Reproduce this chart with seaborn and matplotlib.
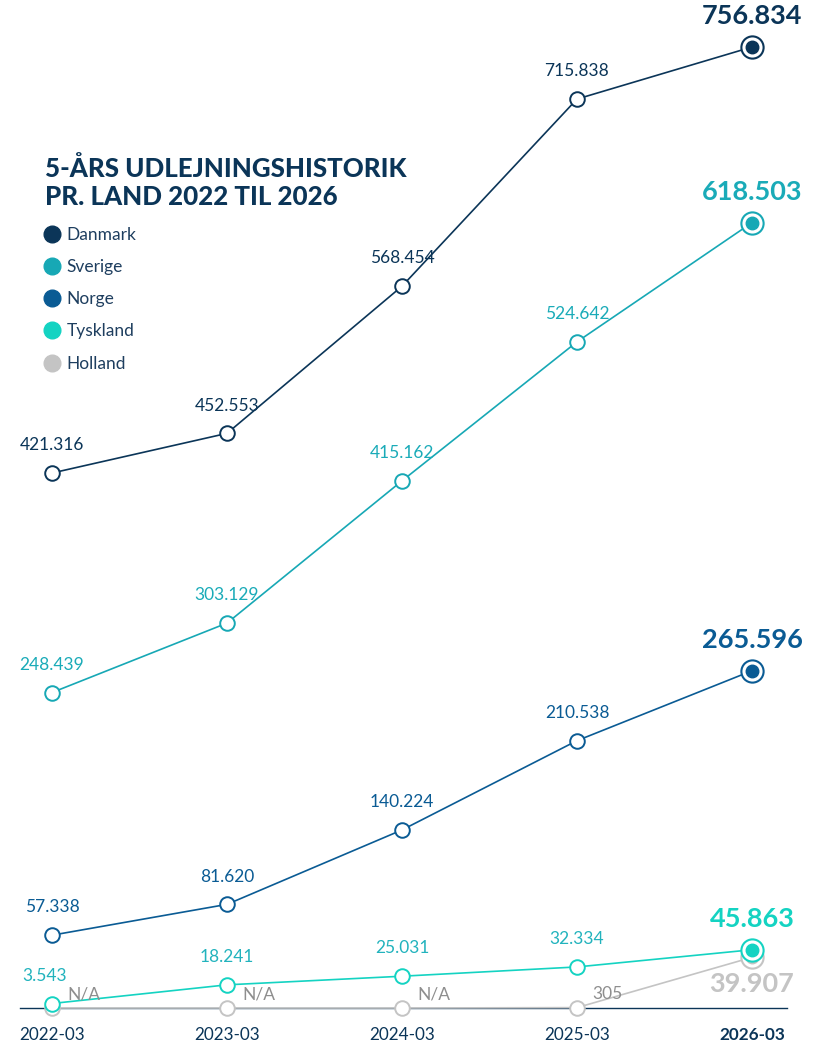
import numpy as np
import pandas as pd
import matplotlib.pyplot as plt
import seaborn as sns
from matplotlib.lines import Line2D

# data
perioder = ["2022-03", "2023-03", "2024-03", "2025-03", "2026-03"]
lande = ["Danmark", "Sverige", "Norge", "Tyskland", "Holland"]
danmark = [421316, 452553, 568454, 715838, 756834]
sverige = [248439, 303129, 415162, 524642, 618503]
norge = [57338, 81620, 140224, 210538, 265596]
tyskland = [3543, 18241, 25031, 32334, 45863]
holland = [None, None, None, 305, 39907]   # N/A vises ved 0

farver = {"Danmark": "#0b3558", "Sverige": "#17a8b5", "Norge": "#0a5b94",
          "Tyskland": "#14d3c2", "Holland": "#c4c4c4"}
label_farver = {"Danmark": "#0b3558", "Sverige": "#1aabb8", "Norge": "#0a5b94",
                "Tyskland": "#22b3bd", "Holland": "#8e8e8e"}
stor_farver = {"Danmark": "#0b3558", "Sverige": "#1aabb8", "Norge": "#0a5b94",
               "Tyskland": "#14d3c2", "Holland": "#c4c4c4"}

serier = {"Danmark": danmark, "Sverige": sverige, "Norge": norge,
          "Tyskland": tyskland, "Holland": holland}

def fmt(v):
    if v is None:
        return "N/A"
    return f"{v:,}".replace(",", ".")

sns.set_style("white")
plt.rcParams['font.family'] = ['Lato', 'DejaVu Sans']

W, H = 827, 1043
fig = plt.figure(figsize=(W / 100, H / 100), dpi=100)
ax = fig.add_axes([0, 35 / H, 1, 1008 / H])

x = np.arange(len(perioder))
zorders = {"Danmark": 5, "Sverige": 5, "Norge": 5, "Tyskland": 4, "Holland": 3}

for land in lande[::-1]:
    vals = [v if v is not None else 0 for v in serier[land]]
    c = farver[land]
    z = zorders[land]
    sns.lineplot(x=x, y=vals, color=c, marker="o", markersize=10.5,
                 markerfacecolor="white", markeredgecolor=c, markeredgewidth=1.4,
                 linewidth=1.2, ax=ax, zorder=z, clip_on=False)
    # sidste punkt: dobbelt ring
    ax.plot(x[-1:], vals[-1:], marker="o", markersize=16, markerfacecolor="white",
            markeredgecolor=c, markeredgewidth=1.5, ls="", zorder=z + 0.1, clip_on=False)
    ax.plot(x[-1:], vals[-1:], marker="o", markersize=9, markerfacecolor=c,
            markeredgecolor=c, ls="", zorder=z + 0.2, clip_on=False)

    # labels
    for i, (xi, v) in enumerate(zip(x, serier[land])):
        yv = v if v is not None else 0
        if i == len(x) - 1:
            if land == "Holland":
                ax.annotate(fmt(v), (xi, yv), xytext=(0, -19), textcoords="offset points",
                            ha="center", va="center", fontsize=19.5, fontweight="bold",
                            color=stor_farver[land], zorder=10)
            else:
                ax.annotate(fmt(v), (xi, yv), xytext=(0, 22), textcoords="offset points",
                            ha="center", va="center", fontsize=19.5, fontweight="bold",
                            color=stor_farver[land], zorder=10)
        elif land == "Holland":
            ax.annotate(fmt(v), (xi, yv), xytext=(11, 9.5), textcoords="offset points",
                        ha="left", va="center", fontsize=12.5,
                        color=label_farver[land], zorder=10)
        else:
            dx = -5 if (land == "Tyskland" and i == 0) else 0
            ax.annotate(fmt(v), (xi, yv), xytext=(dx, 20), textcoords="offset points",
                        ha="center", va="center", fontsize=12.5,
                        color=label_farver[land], zorder=10)

ax.set_xlim(-52 / 175, (W - 52) / 175)
ax.set_ylim(0, 756834 * 1008 / 961)
for s in ["top", "right", "left"]:
    ax.spines[s].set_visible(False)
ax.spines["bottom"].set_color("#0b3558")
ax.spines["bottom"].set_linewidth(1.0)
ax.spines["bottom"].set_bounds(-32 / 175, 4 + 35 / 175)
ax.spines["bottom"].set_zorder(2)
ax.set_yticks([])
ax.set_xticks(x)
ax.set_xticklabels(perioder, fontsize=12.3, color="#0b3558")
ax.get_xticklabels()[-1].set_fontweight("bold")
ax.tick_params(axis="x", length=0, pad=14)
ax.set_xlabel("")
ax.set_facecolor("none")

# titel
fig.text(45 / W, 1 - 156 / H, "5-ÅRS UDLEJNINGSHISTORIK\nPR. LAND 2022 TIL 2026",
         fontsize=18.6, fontweight="black", color="#0b3558", va="top", ha="left",
         linespacing=1.18)

# forklaring
handles = [Line2D([], [], marker="o", ls="", markersize=12, color=farver[l]) for l in lande]
ax.legend(handles, lande, loc="upper left", bbox_to_anchor=(44 / W, 1 - 227 / H),
          bbox_transform=fig.transFigure, frameon=False, fontsize=12.5,
          labelcolor="#1e3e5f", handlelength=0.95, handletextpad=0.35,
          labelspacing=0.93, borderpad=0, borderaxespad=0)

fig.savefig("out.png", dpi=100)
